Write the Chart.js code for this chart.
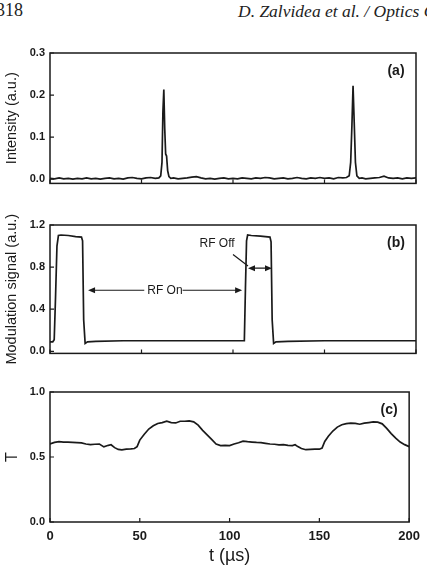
<!DOCTYPE html>
<html>
<head>
<meta charset="utf-8">
<script src="https://cdn.jsdelivr.net/npm/chart.js@4.4.0/dist/chart.umd.min.js"></script>
<style>
  body { margin: 0; width: 427px; height: 567px; overflow: hidden; background: #fff; position: relative; }
  canvas { position: absolute; left: 0; }
  .head { position: absolute; font-family: "Liberation Serif", serif; color: #222; white-space: nowrap; }
</style>
</head>
<body>
<div class="head" style="left:-4px; top:0px; font-size:18px;">318</div>
<div class="head" style="left:238px; top:1px; font-size:17.5px; font-style:italic;">D. Zalvidea et al. / Optics C</div>
<canvas id="panelA" width="427" height="155" style="top:40px"></canvas>
<canvas id="panelB" width="427" height="155" style="top:210px"></canvas>
<canvas id="panelC" width="427" height="187" style="top:380px"></canvas>
<script>
'use strict';

/// data ///
let xTicks = [0, 50, 100, 150, 200];
let yTicksA = [0, 0.1, 0.2, 0.3];
let yTicksB = [0, 0.4, 0.8, 1.2];
let yTicksC = [0, 0.5, 1.0];

// (a) intensity
let tA = [0, 2.5, 5, 7.5, 10, 12.5, 15, 17.5, 20, 22.5,
  25, 27.5, 30, 32.5, 35, 37.5, 40, 42.5, 45, 47.5,
  50, 52.5, 55, 57.5, 59.5, 60.5, 61.2, 61.7, 62.2, 62.7,
  63.2, 63.7, 64.3, 65, 66, 67.5, 70, 72.5, 75, 77.5,
  80, 82.5, 85, 87.5, 90, 92.5, 95, 97.5, 100, 102.5,
  105, 107.5, 110, 112.5, 115, 117.5, 120, 122.5, 125, 127.5,
  130, 132.5, 135, 137.5, 140, 142.5, 145, 147.5, 150, 152.5,
  155, 157.5, 160, 162, 163.5, 164.3, 165, 165.6, 166.2, 166.9,
  167.7, 169, 170.5, 172.5, 175, 177.5, 180, 182.5, 185, 187.5,
  190, 192.5, 195, 197.5, 200];
let intensity = [0.002, 0.001, 0.003, 0.001, 0.002, 0.000, 0.002, 0.001, 0.003, 0.001,
  0.002, 0.000, 0.002, 0.003, 0.001, 0.002, 0.000, 0.003, 0.004, 0.002,
  0.001, 0.003, 0.004, 0.002, 0.003, 0.008, 0.040, 0.160, 0.213, 0.120,
  0.060, 0.055, 0.020, 0.006, 0.002, 0.003, 0.001, 0.002, 0.003, 0.005,
  0.006, 0.003, 0.001, 0.002, 0.000, 0.002, 0.003, 0.001, 0.002, 0.001,
  0.003, 0.002, 0.001, 0.003, 0.002, 0.004, 0.003, 0.001, 0.002, 0.003,
  0.001, 0.002, 0.004, 0.002, 0.001, 0.003, 0.002, 0.004, 0.002, 0.003,
  0.001, 0.004, 0.003, 0.004, 0.008, 0.040, 0.130, 0.222, 0.140, 0.040,
  0.008, 0.002, 0.003, 0.001, 0.002, 0.003, 0.004, 0.007, 0.003, 0.002,
  0.003, 0.001, 0.003, 0.002, 0.003];

// (b) modulation signal
let tB = [0, 1.5, 2.3, 3, 3.8, 4.6, 6, 10, 14, 17.2,
  17.8, 18.4, 19.2, 20.5, 25, 40, 60, 80, 100, 106.2,
  106.8, 107.4, 108, 110, 115, 120.2, 120.8, 121.4, 122.2, 123.5,
  130, 150, 170, 200];
let modulation = [0.09, 0.09, 0.11, 0.5, 1.0, 1.1, 1.105, 1.1, 1.09, 1.085,
  1.05, 0.3, 0.075, 0.09, 0.095, 0.1, 0.1, 0.1, 0.1, 0.1,
  0.6, 1.05, 1.105, 1.1, 1.095, 1.085, 1.04, 0.3, 0.075, 0.09,
  0.095, 0.1, 0.1, 0.1];

// (c) transmission T
let tC = [0, 2.5, 5, 7.5, 10, 12.5, 15, 17.5, 20, 22.5,
  25, 27.5, 30, 32.5, 34, 36, 38, 40, 42.5, 45,
  47, 48.5, 50, 52.5, 55, 57.5, 60, 62.5, 65, 67.5,
  70, 72.5, 75, 77.5, 80, 82.5, 85, 87.5, 90, 92.5,
  95, 97.5, 100, 102.5, 105, 107.5, 110, 112.5, 115, 117.5,
  120, 122.5, 125, 127.5, 130, 132.5, 135, 136.5, 138, 140,
  142.5, 145, 147.5, 150, 151.5, 153, 155, 157.5, 160, 162.5,
  165, 167.5, 170, 172.5, 175, 177.5, 180, 182.5, 185, 187.5,
  190, 192.5, 195, 197.5, 200];
let transmission = [0.600, 0.612, 0.618, 0.615, 0.614, 0.612, 0.610, 0.608, 0.600, 0.595,
  0.598, 0.600, 0.578, 0.590, 0.594, 0.572, 0.558, 0.555, 0.560, 0.562,
  0.565, 0.580, 0.630, 0.675, 0.715, 0.740, 0.758, 0.765, 0.775, 0.765,
  0.762, 0.775, 0.775, 0.778, 0.770, 0.745, 0.705, 0.670, 0.635, 0.600,
  0.588, 0.590, 0.588, 0.600, 0.610, 0.622, 0.618, 0.615, 0.612, 0.610,
  0.605, 0.600, 0.598, 0.594, 0.595, 0.590, 0.588, 0.594, 0.580, 0.565,
  0.556, 0.558, 0.560, 0.560, 0.568, 0.620, 0.660, 0.700, 0.730, 0.748,
  0.757, 0.760, 0.758, 0.752, 0.760, 0.765, 0.770, 0.768, 0.755, 0.720,
  0.680, 0.645, 0.615, 0.595, 0.580];

let ink = '#1a1a1a';
let fontName = '"Liberation Sans", Arial, sans-serif';

///// frame, inward ticks and panel letter /////
const frame = {
  id: 'frame',
  afterDatasetsDraw(chart, args, opts) {
    const ctx = chart.ctx;
    const a = chart.chartArea;
    const sx = chart.scales.x;
    const sy = chart.scales.y;
    ctx.save();
    ctx.strokeStyle = ink;
    ctx.lineWidth = 1.5;
    ctx.strokeRect(a.left, a.top, a.right - a.left, a.bottom - a.top);
    ctx.lineWidth = 1.2;
    ctx.beginPath();
    sx.ticks.forEach(t => {
      let px = sx.getPixelForValue(t.value);
      ctx.moveTo(px, a.bottom);
      ctx.lineTo(px, a.bottom - 4);
    });
    sy.ticks.forEach(t => {
      let py = sy.getPixelForValue(t.value);
      ctx.moveTo(a.left, py);
      ctx.lineTo(a.left + 4, py);
    });
    ctx.stroke();
    ctx.fillStyle = ink;
    ctx.font = 'bold 14px ' + fontName;
    ctx.textAlign = 'center';
    ctx.textBaseline = 'middle';
    ctx.fillText(opts.label, a.right - 20, a.top + 18);
    ctx.restore();
  }
};

function arrowHead(ctx, x, y, dir) {
  ctx.beginPath();
  ctx.moveTo(x, y);
  ctx.lineTo(x - dir * 7, y - 3);
  ctx.lineTo(x - dir * 7, y + 3);
  ctx.closePath();
  ctx.fill();
}

///// RF On / RF Off notes on panel (b) /////
const notes = {
  id: 'notes',
  afterDatasetsDraw(chart, args, opts) {
    if (!opts.rfOn) return;
    const ctx = chart.ctx;
    const sx = chart.scales.x;
    const sy = chart.scales.y;
    ctx.save();
    ctx.strokeStyle = ink;
    ctx.fillStyle = ink;
    ctx.lineWidth = 1.2;
    ctx.font = '12px ' + fontName;
    ctx.textAlign = 'center';
    ctx.textBaseline = 'middle';

    // RF On
    let on = opts.rfOn;
    let x1 = sx.getPixelForValue(on.from);
    let x2 = sx.getPixelForValue(on.to);
    let y = sy.getPixelForValue(on.y);
    let tx = sx.getPixelForValue(on.textAt);
    let w = ctx.measureText(on.label).width;
    ctx.beginPath();
    ctx.moveTo(x1 + 5, y);
    ctx.lineTo(tx - w / 2 - 3, y);
    ctx.moveTo(tx + w / 2, y);
    ctx.lineTo(x2 - 5, y);
    ctx.stroke();
    arrowHead(ctx, x1, y, -1);
    arrowHead(ctx, x2, y, 1);
    ctx.fillText(on.label, tx, y);

    // RF Off
    let off = opts.rfOff;
    let a1 = sx.getPixelForValue(off.from);
    let a2 = sx.getPixelForValue(off.to);
    let ay = sy.getPixelForValue(off.y);
    ctx.beginPath();
    ctx.moveTo(a1 + 5, ay);
    ctx.lineTo(a2 - 5, ay);
    ctx.moveTo(sx.getPixelForValue(off.leadFrom[0]), sy.getPixelForValue(off.leadFrom[1]));
    ctx.lineTo(sx.getPixelForValue(off.leadTo[0]), sy.getPixelForValue(off.leadTo[1]));
    ctx.stroke();
    arrowHead(ctx, a1, ay, -1);
    arrowHead(ctx, a2, ay, 1);
    ctx.fillText(off.label, sx.getPixelForValue(off.textAt[0]), sy.getPixelForValue(off.textAt[1]));
    ctx.restore();
  }
};

function makePanel(id, xs, ys, cfg) {
  let points = xs.map((x, i) => ({ x: x, y: ys[i] }));
  return new Chart(document.getElementById(id), {
    type: 'line',
    data: {
      datasets: [{
        data: points,
        borderColor: ink,
        borderWidth: 1.7,
        pointRadius: 0,
        tension: 0,
        fill: false
      }]
    },
    options: {
      responsive: false,
      animation: false,
      events: [],
      layout: { padding: { top: cfg.padTop, right: 11, left: 0, bottom: 0 } },
      plugins: {
        legend: { display: false },
        tooltip: { enabled: false },
        frame: { label: cfg.label },
        notes: cfg.notes || {}
      },
      scales: {
        x: {
          type: 'linear',
          min: 0,
          max: 200,
          afterBuildTicks: s => { s.ticks = xTicks.map(v => ({ value: v })); },
          afterFit: s => { s.height = cfg.xHeight; },
          grid: { display: false, drawTicks: false },
          border: { display: false },
          ticks: {
            display: cfg.xLabels,
            padding: 7,
            color: ink,
            font: { family: fontName, size: 13, weight: 'bold' },
            maxRotation: 0,
            callback: v => String(v)
          },
          title: {
            display: cfg.xLabels,
            text: 't (\u00b5s)',
            color: ink,
            padding: { top: 0, bottom: 0 },
            font: { family: fontName, size: 18 }
          }
        },
        y: {
          type: 'linear',
          min: cfg.yMin,
          max: cfg.yMax,
          afterBuildTicks: s => { s.ticks = cfg.yTicks.map(v => ({ value: v })); },
          afterFit: s => { s.width = 50; },
          grid: { display: false, drawTicks: false },
          border: { display: false },
          ticks: {
            padding: 5,
            color: ink,
            font: { family: fontName, size: 11, weight: 'bold' },
            callback: v => v.toFixed(1)
          },
          title: {
            display: true,
            text: cfg.yTitle,
            color: ink,
            padding: { top: 3, bottom: 0 },
            font: { family: fontName, size: cfg.yTitleSize }
          }
        }
      }
    },
    plugins: [frame, notes]
  });
}

makePanel('panelA', tA, intensity, {
  label: '(a)', padTop: 13, xHeight: 10, xLabels: false,
  yMin: -0.01, yMax: 0.3, yTicks: yTicksA, yTitle: 'Intensity (a.u.)', yTitleSize: 14.5
});

makePanel('panelB', tB, modulation, {
  label: '(b)', padTop: 15, xHeight: 9, xLabels: false,
  yMin: -0.02, yMax: 1.2, yTicks: yTicksB, yTitle: 'Modulation signal (a.u.)', yTitleSize: 14.5,
  notes: {
    rfOn: { label: 'RF On', from: 20.8, to: 105, y: 0.58, textAt: 62.8 },
    rfOff: { label: 'RF Off', from: 108.2, to: 121.3, y: 0.79, textAt: [91.3, 1.02], leadFrom: [100, 0.92], leadTo: [108.2, 0.81] }
  }
});

makePanel('panelC', tC, transmission, {
  label: '(c)', padTop: 12, xHeight: 45, xLabels: true,
  yMin: 0, yMax: 1.0, yTicks: yTicksC, yTitle: 'T', yTitleSize: 16
});
</script>
</body>
</html>
